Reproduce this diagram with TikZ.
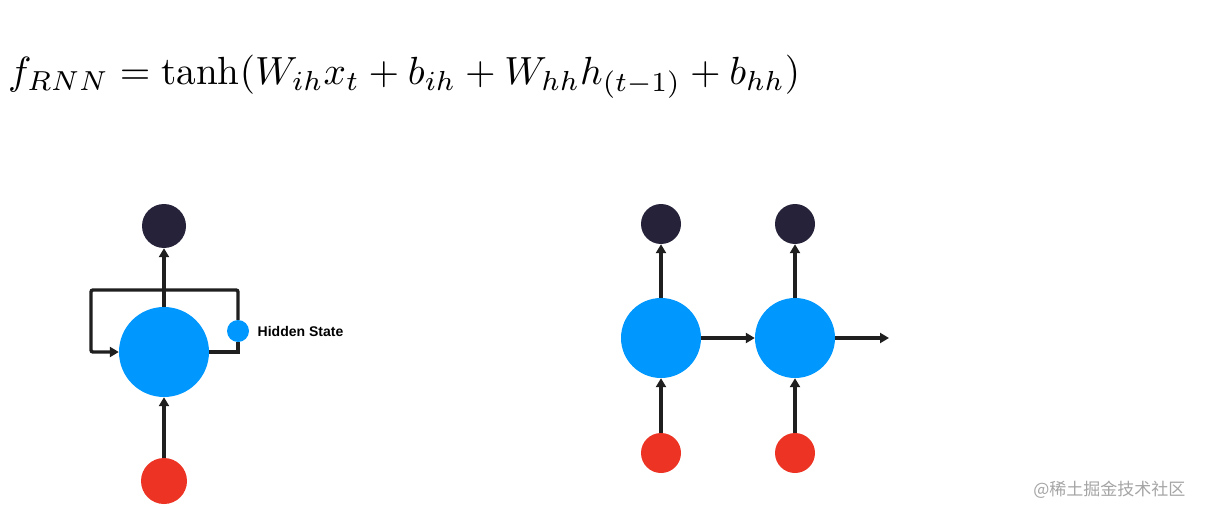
\documentclass[tikz,border=0pt]{standalone}
\usepackage{amsmath}
\usepackage{fontspec}
\setsansfont{Liberation Sans}
\newfontfamily\cjkfont{Noto Sans CJK SC}
\usetikzlibrary{arrows.meta,positioning}
\definecolor{cellblue}{RGB}{0,152,255}
\definecolor{outnavy}{RGB}{38,34,58}
\definecolor{inred}{RGB}{237,52,36}
\definecolor{markgray}{RGB}{165,165,165}
\tikzset{
  wire/.style={black!88,line width=3.4pt},
  flow/.style={wire,-{Triangle[length=9pt,width=10pt]}},
  cell/.style={circle,fill=cellblue,inner sep=0pt,minimum size=90pt},
  smallcell/.style={cell,minimum size=80pt},
  outdot/.style={circle,fill=outnavy,inner sep=0pt,minimum size=44pt},
  indot/.style={circle,fill=inred,inner sep=0pt,minimum size=46pt},
  smalldot/.style={inner sep=0pt,minimum size=40pt},
  statedot/.style={circle,fill=cellblue,inner sep=0pt,minimum size=22pt},
  lab/.style={font=\sffamily\bfseries\fontsize{14}{16}\selectfont},
}

\begin{document}
\begin{tikzpicture}[x=1pt,y=-1pt]
  \path[use as bounding box,fill=white] (0,0) rectangle (1205,516);

  % formula
  \node[anchor=west,inner sep=0pt] (eq) at (8,77)
    {\resizebox{792pt}{!}{$f_{RNN} = \tanh(W_{ih}x_t + b_{ih} + W_{hh}h_{(t-1)} + b_{hh})$}};

  % folded RNN
  \node[outdot] (outL) at (164,226) {};
  \node[cell] (cellL) at (164,352) {};
  \node[indot] (inL) at (164,481) {};
  \node[statedot] (hs) at (238,331) {};
  \node[lab,anchor=west,right=5pt of hs] (hslab) {Hidden State};
  \coordinate (lt) at (91,290);

  \draw[flow] (cellL.north) -- (outL.south);
  \draw[flow] (inL.north) -- (cellL.south);
  \draw[wire] (cellL.east) -| (hs.south);
  \draw[flow,rounded corners=2pt] (hs.north) |- (lt) |- (cellL.west);

  % unrolled RNN
  \node[outdot,smalldot] (out1) at (661,224) {};
  \node[outdot,smalldot] (out2) at (795,224) {};
  \node[smallcell] (cell1) at (661,338) {};
  \node[smallcell] (cell2) at (795,338) {};
  \node[indot,smalldot] (in1) at (661,453) {};
  \node[indot,smalldot] (in2) at (795,453) {};
  \coordinate (next) at (889,338);

  \draw[flow] (cell1.north) -- (out1.south);
  \draw[flow] (cell2.north) -- (out2.south);
  \draw[flow] (in1.north) -- (cell1.south);
  \draw[flow] (in2.north) -- (cell2.south);
  \draw[flow] (cell1.east) -- (cell2.west);
  \draw[flow] (cell2.east) -- (next);

  % watermark
  \node[anchor=east,text=markgray,font=\cjkfont\fontsize{17}{19}\selectfont] (mark) at (1189,490) {@稀土掘金技术社区};
\end{tikzpicture}
\end{document}
